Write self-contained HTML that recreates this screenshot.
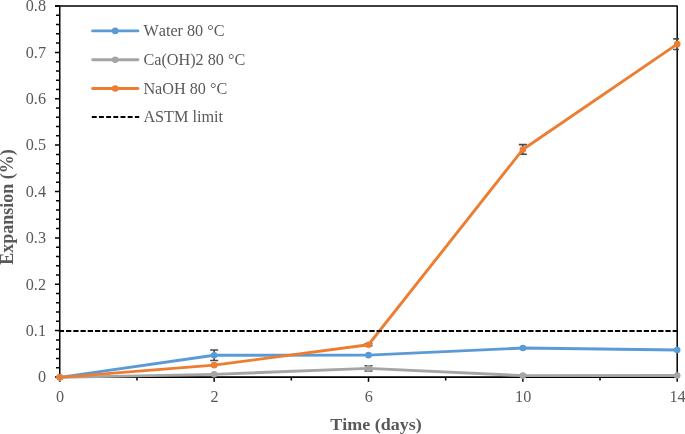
<!DOCTYPE html>
<html><head><meta charset="utf-8"><style>html,body{margin:0;padding:0;background:#fff;overflow:hidden}svg{display:block;will-change:transform}text{font-kerning:none}</style></head>
<body><svg width="685" height="434" viewBox="0 0 685 434">
<path d="M59.75,5.9V377.0" stroke="#000" stroke-width="1.5" fill="none"/><path d="M55,5.9H677.2V377.0" stroke="#000" stroke-width="1.5" fill="none" stroke-linejoin="round"/><path d="M59.2,377.15H678" stroke="#000" stroke-width="1.7" fill="none"/>
<path d="M55,377.00H60M56,367.73H60M56,358.45H60M56,349.18H60M56,339.90H60M55,330.62H60M56,321.35H60M56,312.07H60M56,302.80H60M56,293.52H60M55,284.25H60M56,274.98H60M56,265.70H60M56,256.43H60M56,247.15H60M55,237.88H60M56,228.60H60M56,219.32H60M56,210.05H60M56,200.78H60M55,191.50H60M56,182.22H60M56,172.95H60M56,163.67H60M56,154.40H60M55,145.12H60M56,135.85H60M56,126.57H60M56,117.30H60M56,108.02H60M55,98.75H60M56,89.47H60M56,80.20H60M56,70.93H60M56,61.65H60M55,52.38H60M56,43.10H60M56,33.82H60M56,24.55H60M56,15.27H60M55,6.00H60M59.80,377.00V381.8M214.15,377.00V381.8M368.50,377.00V381.8M522.85,377.00V381.8M677.20,377.00V381.8M136.97,377.00V380.5M291.32,377.00V380.5M445.67,377.00V380.5M600.02,377.00V380.5" stroke="#000" stroke-width="1.5" fill="none"/>
<g font-family="Liberation Serif, serif" font-size="16.2" fill="#595959"><text transform="translate(46,382.30) scale(1,1.08)" text-anchor="end">0</text><text transform="translate(46,335.93) scale(1,1.08)" text-anchor="end">0.1</text><text transform="translate(46,289.55) scale(1,1.08)" text-anchor="end">0.2</text><text transform="translate(46,243.18) scale(1,1.08)" text-anchor="end">0.3</text><text transform="translate(46,196.80) scale(1,1.08)" text-anchor="end">0.4</text><text transform="translate(46,150.43) scale(1,1.08)" text-anchor="end">0.5</text><text transform="translate(46,104.05) scale(1,1.08)" text-anchor="end">0.6</text><text transform="translate(46,57.67) scale(1,1.08)" text-anchor="end">0.7</text><text transform="translate(46,11.30) scale(1,1.08)" text-anchor="end">0.8</text><text transform="translate(60.10,402.1) scale(1,1.08)" text-anchor="middle">0</text><text transform="translate(214.45,402.1) scale(1,1.08)" text-anchor="middle">2</text><text transform="translate(368.80,402.1) scale(1,1.08)" text-anchor="middle">6</text><text transform="translate(523.15,402.1) scale(1,1.08)" text-anchor="middle">10</text><text transform="translate(677.50,402.1) scale(1,1.08)" text-anchor="middle">14</text><line x1="92.6" y1="30.9" x2="137.9" y2="30.9" stroke="#5B9BD5" stroke-width="2.9" stroke-linecap="round"/><circle cx="115.2" cy="30.9" r="3.3" fill="#5B9BD5"/><line x1="92.6" y1="59.7" x2="137.9" y2="59.7" stroke="#A5A5A5" stroke-width="2.9" stroke-linecap="round"/><circle cx="115.2" cy="59.7" r="3.3" fill="#A5A5A5"/><line x1="92.6" y1="88.5" x2="137.9" y2="88.5" stroke="#ED7D31" stroke-width="2.9" stroke-linecap="round"/><circle cx="115.2" cy="88.5" r="3.3" fill="#ED7D31"/><line x1="91.8" y1="117.1" x2="139.2" y2="117.1" stroke="#000" stroke-width="2" stroke-dasharray="4.9 2.28"/><text transform="translate(143.4,36.00) scale(1,1.08)">Water 80 °C</text><text transform="translate(143.4,64.80) scale(1,1.08)">Ca(OH)2 80 °C</text><text transform="translate(143.4,93.60) scale(1,1.08)">NaOH 80 °C</text><text transform="translate(143.4,122.20) scale(1,1.08)">ASTM limit</text></g>
<defs><clipPath id="pa"><rect x="58" y="0" width="621" height="390"/></clipPath></defs>
<g clip-path="url(#pa)"><path d="M214.15,349.95V360.55M210.15,349.95H218.15M210.15,360.55H218.15" stroke="#4a4a4a" stroke-width="1.6" fill="none"/></g><polyline points="59.80,377.35 214.15,355.25 368.50,355.15 522.85,348.05 677.20,349.95" fill="none" stroke="#5B9BD5" stroke-width="2.9" stroke-linejoin="round" stroke-linecap="round"/><circle cx="59.80" cy="377.35" r="3.3" fill="#5B9BD5"/><circle cx="214.15" cy="355.25" r="3.3" fill="#5B9BD5"/><circle cx="368.50" cy="355.15" r="3.3" fill="#5B9BD5"/><circle cx="522.85" cy="348.05" r="3.3" fill="#5B9BD5"/><circle cx="677.20" cy="349.95" r="3.3" fill="#5B9BD5"/>
<g clip-path="url(#pa)"><path d="M368.50,365.80V371.00M364.50,365.80H372.50M364.50,371.00H372.50" stroke="#4a4a4a" stroke-width="1.6" fill="none"/></g><polyline points="59.80,377.35 214.15,374.35 368.50,368.40 522.85,375.65 677.20,375.55" fill="none" stroke="#A5A5A5" stroke-width="2.9" stroke-linejoin="round" stroke-linecap="round"/><circle cx="59.80" cy="377.35" r="3.3" fill="#A5A5A5"/><circle cx="214.15" cy="374.35" r="3.3" fill="#A5A5A5"/><circle cx="368.50" cy="368.40" r="3.3" fill="#A5A5A5"/><circle cx="522.85" cy="375.65" r="3.3" fill="#A5A5A5"/><circle cx="677.20" cy="375.55" r="3.3" fill="#A5A5A5"/>
<g clip-path="url(#pa)"><path d="M522.85,144.65V154.25M518.85,144.65H526.85M518.85,154.25H526.85" stroke="#4a4a4a" stroke-width="1.6" fill="none"/><path d="M677.20,38.85V49.45M673.20,38.85H681.20M673.20,49.45H681.20" stroke="#4a4a4a" stroke-width="1.6" fill="none"/><path d="M368.50,343.75V345.75M364.50,343.75H372.50M364.50,345.75H372.50" stroke="#4a4a4a" stroke-width="1.6" fill="none"/></g><polyline points="59.80,377.35 214.15,365.15 368.50,344.75 522.85,149.45 677.20,44.15" fill="none" stroke="#ED7D31" stroke-width="2.9" stroke-linejoin="round" stroke-linecap="round"/><circle cx="59.80" cy="377.35" r="3.3" fill="#ED7D31"/><circle cx="214.15" cy="365.15" r="3.3" fill="#ED7D31"/><circle cx="368.50" cy="344.75" r="3.3" fill="#ED7D31"/><circle cx="522.85" cy="149.45" r="3.3" fill="#ED7D31"/><circle cx="677.20" cy="44.15" r="3.3" fill="#ED7D31"/>
<line x1="58.8" y1="330.93" x2="677.5" y2="330.93" stroke="#000" stroke-width="2" stroke-dasharray="5.3 1.922"/>
<text transform="translate(376,429.8) scale(1,0.93)" text-anchor="middle" font-family="Liberation Serif, serif" font-weight="bold" font-size="18" fill="#595959">Time (days)</text>
<text transform="translate(12.8,207) rotate(-90)" text-anchor="middle" font-family="Liberation Serif, serif" font-weight="bold" font-size="18" fill="#595959">Expansion (%)</text>
</svg></body></html>
